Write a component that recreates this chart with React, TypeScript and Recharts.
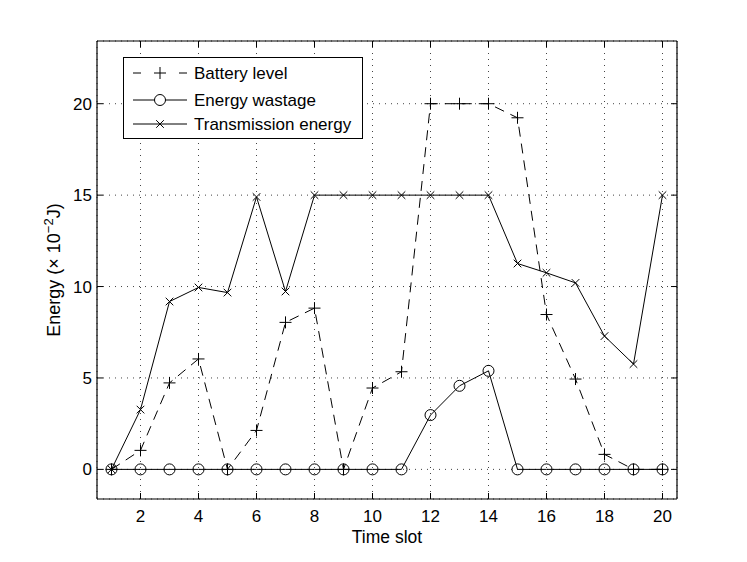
import React from "react";
import {
  LineChart,
  Line,
  XAxis,
  YAxis,
  CartesianGrid,
} from "recharts";

// Chart data
const slots = [1, 2, 3, 4, 5, 6, 7, 8, 9, 10, 11, 12, 13, 14, 15, 16, 17, 18, 19, 20];
const battery = [0, 1.04, 4.73, 6.04, 0, 2.13, 8.04, 8.82, 0, 4.45, 5.34, 20, 20, 20, 19.23, 8.47, 4.94, 0.82, 0, 0];
const wastage = [0, 0, 0, 0, 0, 0, 0, 0, 0, 0, 0, 2.97, 4.57, 5.39, 0, 0, 0, 0, 0, 0];
const transmission = [0, 3.27, 9.18, 9.95, 9.67, 14.9, 9.73, 15, 15, 15, 15, 15, 15, 15, 11.26, 10.75, 10.2, 7.29, 5.76, 15];
const xTicks = [2, 4, 6, 8, 10, 12, 14, 16, 18, 20];
const yTicks = [0, 5, 10, 15, 20];

const rows = slots.map((slot, i) => ({
  slot,
  battery: battery[i],
  wastage: wastage[i],
  transmission: transmission[i],
}));

const FONT = "'Liberation Sans', Arial, Helvetica, sans-serif";
const TICK = 6;

// markers
const PlusDot = (props: any) => {
  const { cx, cy, index } = props;
  if (cx == null || cy == null) return <g key={`p-${index}`} />;
  return (
    <path
      key={`p-${index}`}
      d={`M${cx - 6},${cy}H${cx + 6}M${cx},${cy - 6}V${cy + 6}`}
      stroke="#000"
      strokeWidth={1}
      fill="none"
    />
  );
};

const CircleDot = (props: any) => {
  const { cx, cy, index } = props;
  if (cx == null || cy == null) return <g key={`c-${index}`} />;
  return <circle key={`c-${index}`} cx={cx} cy={cy} r={5.5} stroke="#000" strokeWidth={1} fill="none" />;
};

const CrossDot = (props: any) => {
  const { cx, cy, index } = props;
  if (cx == null || cy == null) return <g key={`x-${index}`} />;
  const s = 3.8;
  return (
    <path
      key={`x-${index}`}
      d={`M${cx - s},${cy - s}L${cx + s},${cy + s}M${cx - s},${cy + s}L${cx + s},${cy - s}`}
      stroke="#000"
      strokeWidth={1}
      fill="none"
    />
  );
};

// inward ticks (MATLAB style box)
const BottomTick = ({ x, y, payload }: any) => (
  <g>
    <line x1={x} x2={x} y1={y} y2={y - TICK} stroke="#000" />
    <text x={x} y={y + 23} textAnchor="middle" fontSize={17} fontFamily={FONT} fill="#000">
      {payload.value}
    </text>
  </g>
);

const TopTick = ({ x, y }: any) => <line x1={x} x2={x} y1={y} y2={y + TICK} stroke="#000" />;

const LeftTick = ({ x, y, payload }: any) => (
  <g>
    <line x1={x} x2={x + TICK} y1={y} y2={y} stroke="#000" />
    <text x={x - 5} y={y + 6} textAnchor="end" fontSize={17} fontFamily={FONT} fill="#000">
      {payload.value}
    </text>
  </g>
);

const RightTick = ({ x, y }: any) => <line x1={x} x2={x - TICK} y1={y} y2={y} stroke="#000" />;

const YLabel = ({ viewBox }: any) => {
  const cx = 60;
  const cy = viewBox.y + viewBox.height / 2;
  return (
    <text
      x={cx}
      y={cy}
      transform={`rotate(-90 ${cx} ${cy})`}
      textAnchor="middle"
      fontSize={18}
      fontFamily={FONT}
      fill="#000"
    >
      Energy (× 10
      <tspan dy={-7} fontSize={13}>−2</tspan>
      <tspan dy={7}>J)</tspan>
    </text>
  );
};

const LegendBox = () => (
  <svg
    width={240}
    height={82}
    style={{ position: "absolute", left: 123, top: 57 }}
  >
    <rect x={0.5} y={0.5} width={239} height={81} fill="#fff" stroke="#000" strokeWidth={1} />
    {/* Battery level */}
    <line x1={10} x2={18} y1={16} y2={16} stroke="#000" />
    <line x1={56} x2={64} y1={16} y2={16} stroke="#000" />
    <path d="M31,16H43M37,10V22" stroke="#000" fill="none" />
    <text x={71} y={22} fontSize={17} fontFamily={FONT}>Battery level</text>
    {/* Energy wastage */}
    <line x1={10} x2={64} y1={43} y2={43} stroke="#000" />
    <circle cx={37} cy={43} r={5.5} stroke="#000" fill="#fff" />
    <text x={71} y={49} fontSize={17} fontFamily={FONT}>Energy wastage</text>
    {/* Transmission energy */}
    <line x1={10} x2={64} y1={67} y2={67} stroke="#000" />
    <path d="M33.2,63.2L40.8,70.8M33.2,70.8L40.8,63.2" stroke="#000" fill="none" />
    <text x={71} y={73} fontSize={17} fontFamily={FONT}>Transmission energy</text>
  </svg>
);

export default function App() {
  return (
    <div
      style={{
        position: "absolute",
        left: 0,
        top: 0,
        width: 747,
        height: 562,
        background: "#fff",
        fontFamily: FONT,
      }}
    >
      <LineChart
        width={747}
        height={562}
        data={rows}
        margin={{ top: 36, right: 60, bottom: 33, left: 37 }}
      >
        <CartesianGrid stroke="#444" strokeDasharray="1 5" strokeWidth={1} />
        <XAxis
          dataKey="slot"
          type="number"
          domain={[0.5, 20.5]}
          ticks={xTicks}
          interval={0}
          allowDataOverflow
          height={30}
          tickSize={0}
          tickMargin={0}
          tickLine={false}
          axisLine={{ stroke: "#000", strokeWidth: 1.2 }}
          tick={<BottomTick />}
          label={{
            value: "Time slot",
            position: "bottom",
            offset: 2,
            fontSize: 17.5,
            fontFamily: FONT,
            fill: "#000",
          }}
        />
        <XAxis
          xAxisId="top"
          orientation="top"
          dataKey="slot"
          type="number"
          domain={[0.5, 20.5]}
          ticks={xTicks}
          interval={0}
          allowDataOverflow
          height={5}
          tickSize={0}
          tickMargin={0}
          tickLine={false}
          axisLine={{ stroke: "#000", strokeWidth: 1.2 }}
          tick={<TopTick />}
        />
        <YAxis
          type="number"
          domain={[-1.62, 23.43]}
          ticks={yTicks}
          interval={0}
          allowDataOverflow
          width={60}
          tickSize={0}
          tickMargin={0}
          tickLine={false}
          axisLine={{ stroke: "#000", strokeWidth: 1.2 }}
          tick={<LeftTick />}
          label={<YLabel />}
        />
        <YAxis
          yAxisId="right"
          orientation="right"
          type="number"
          domain={[-1.62, 23.43]}
          ticks={yTicks}
          interval={0}
          allowDataOverflow
          width={10}
          tickSize={0}
          tickMargin={0}
          tickLine={false}
          axisLine={{ stroke: "#000", strokeWidth: 1.2 }}
          tick={<RightTick />}
        />
        <Line
          dataKey="battery"
          type="linear"
          stroke="#000"
          strokeWidth={1}
          strokeDasharray="10 7"
          dot={PlusDot}
          activeDot={false}
          isAnimationActive={false}
        />
        <Line
          dataKey="wastage"
          type="linear"
          stroke="#000"
          strokeWidth={1}
          dot={CircleDot}
          activeDot={false}
          isAnimationActive={false}
        />
        <Line
          dataKey="transmission"
          type="linear"
          stroke="#000"
          strokeWidth={1}
          dot={CrossDot}
          activeDot={false}
          isAnimationActive={false}
        />
      </LineChart>
      <LegendBox />
    </div>
  );
}
